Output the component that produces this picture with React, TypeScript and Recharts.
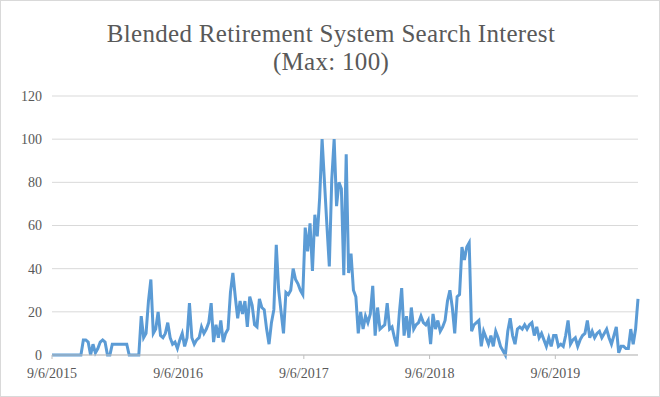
import { CartesianGrid, Line, LineChart, XAxis, YAxis } from 'recharts';

// weekly Google Trends style index, first week starts 9/6/2015
const interest = [
  0, 0, 0, 0, 0, 0, 0, 0, 0, 0, 0, 0, 0, 7, 7, 6, 0, 5, 1, 3,
  6, 7, 6, 0, 0, 5, 5, 5, 5, 5, 5, 5, 0, 0, 0, 0, 0, 18, 8, 10,
  25, 35, 10, 12, 20, 9, 8, 10, 15, 8, 5, 6, 3, 7, 10, 4, 8, 24, 8, 5,
  7, 8, 13, 10, 12, 15, 24, 6, 14, 8, 16, 6, 10, 12, 29, 38, 27, 17, 25, 19,
  25, 13, 27, 23, 14, 13, 26, 22, 21, 12, 5, 15, 21, 51, 30, 20, 10, 29, 28, 30,
  40, 35, 33, 30, 28, 59, 48, 61, 39, 65, 55, 73, 100, 80, 60, 41, 81, 100, 69, 80,
  77, 37, 93, 38, 47, 30, 27, 10, 20, 12, 18, 15, 19, 32, 9, 22, 12, 13, 14, 24,
  12, 13, 8, 4, 19, 31, 9, 18, 8, 22, 12, 14, 15, 18, 15, 14, 16, 5, 19, 12,
  16, 11, 13, 16, 25, 30, 22, 10, 27, 28, 50, 44, 50, 52, 11, 14, 15, 16, 4, 11,
  8, 5, 9, 4, 11, 8, 4, 2, 0, 11, 17, 9, 5, 12, 13, 12, 14, 12, 14, 15,
  9, 13, 8, 10, 7, 4, 8, 4, 9, 9, 4, 5, 4, 9, 16, 5, 7, 8, 4, 7,
  9, 10, 16, 8, 11, 8, 10, 11, 8, 10, 12, 8, 5, 9, 13, 1, 4, 4, 3, 3,
  12, 5, 12, 26,
];
const tickDays = [0, 366, 731, 1096, 1461];
const tickLabels = ['9/6/2015', '9/6/2016', '9/6/2017', '9/6/2018', '9/6/2019'];
const yTicks = [0, 20, 40, 60, 80, 100, 120];

const data = interest.map((value, i) => ({ day: i * 7, value }));
const lastDay = (interest.length - 1) * 7;

const textColor = '#595959';
const font = '"Liberation Serif", "Times New Roman", serif';

export default function App() {
  return (
    <div
      style={{
        position: 'absolute',
        left: 0,
        top: 0,
        width: 660,
        height: 397,
        boxSizing: 'border-box',
        border: '1px solid #d9d9d9',
        background: '#fff',
        fontFamily: font,
      }}
    >
      <div
        style={{
          position: 'absolute',
          left: 0,
          top: 19,
          width: 660,
          textAlign: 'center',
          color: textColor,
          fontSize: 25,
          letterSpacing: 0.3,
          lineHeight: '28px',
        }}
      >
        Blended Retirement System Search Interest
        <br />
        (Max: 100)
      </div>
      <div style={{ position: 'absolute', left: -1, top: -1 }}>
        <LineChart
          width={660}
          height={397}
          data={data}
          margin={{ top: 96, right: 22, bottom: 0, left: 8 }}
        >
          <CartesianGrid stroke="#d9d9d9" vertical={false} />
          <XAxis
            dataKey="day"
            type="number"
            domain={[0, lastDay]}
            ticks={tickDays}
            tickFormatter={(d) => tickLabels[tickDays.indexOf(d)] ?? ''}
            stroke="#bfbfbf"
            tickSize={4}
            tickMargin={9}
            tick={{ fill: textColor, fontSize: 14, fontFamily: font }}
            height={42}
          />
          <YAxis
            domain={[0, 120]}
            ticks={yTicks}
            axisLine={false}
            tickLine={false}
            width={44}
            tickMargin={4}
            tick={{ fill: textColor, fontSize: 14, fontFamily: font }}
          />
          <Line
            type="linear"
            dataKey="value"
            stroke="#5b9bd5"
            strokeWidth={3}
            dot={false}
            isAnimationActive={false}
          />
        </LineChart>
      </div>
    </div>
  );
}
